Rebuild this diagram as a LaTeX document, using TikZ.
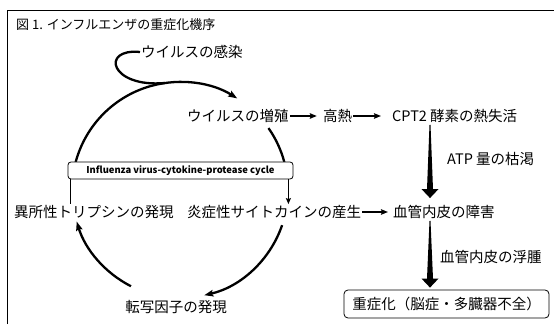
\documentclass[tikz,border=0pt]{standalone}
\usepackage{fontspec}
\setmainfont{Noto Sans CJK JP}
\usepackage{tikz}
\usetikzlibrary{arrows.meta,calc}
\newcommand{\taperarrow}[2]{%
 \fill ($(#1)+(-0.5,0)$) -- ($(#2)+(-3,9)$) -- ($(#2)+(-8.5,9)$) -- (#2)
  -- ($(#2)+(8.5,9)$) -- ($(#2)+(3,9)$) -- ($(#1)+(0.5,0)$) -- cycle;}

\begin{document}
\begin{tikzpicture}[x=1pt,y=1pt,
 lbl/.style={inner sep=1pt,font=\fontsize{14.5}{16}\selectfont},
 arr/.style={-{Stealth[length=7pt,width=5.5pt,inset=1pt]},line width=1.5pt},
 cyc/.style={line width=2.3pt},
 carr/.style={cyc,-{Stealth[length=9pt,width=6.5pt,inset=1.5pt]}},
 cbox/.style={draw,rounded corners=3pt,line width=0.8pt,fill=white,minimum width=225pt,minimum height=17pt,inner sep=0pt,font=\bfseries\fontsize{9.4}{10}\selectfont},
 rbox/.style={draw,rounded corners=4pt,line width=0.8pt,minimum width=205pt,minimum height=28pt,inner sep=0pt}
]
\useasboundingbox (0,0) rectangle (554,324);
\draw[line width=0.8pt] (7,0) -- (7,313.5) -- (554,313.5);
\node[lbl,anchor=west,font=\fontsize{13}{14}\selectfont] (title) at (15,299) {図 1. インフルエンザの重症化機序};

% cycle
\coordinate (c) at (180,134);
\node[lbl,anchor=west] (inf) at (140,272) {ウイルスの感染};
\node[lbl,anchor=west] (prolif) at (186,208) {ウイルスの増殖};
\node[lbl,anchor=west] (cyto) at (186,112) {炎症性サイトカインの産生};
\node[lbl,anchor=west] (tryp) at (13,112) {異所性トリプシンの発現};
\node[lbl] (tf) at (176,17) {転写因子の発現};

% right side
\node[lbl] (fever) at (337.5,208) {高熱};
\node[lbl,anchor=west] (cpt) at (391,208) {CPT2 酵素の熱失活};
\node[lbl,anchor=west] (atp) at (446,165) {ATP 量の枯渇};
\node[lbl,anchor=west] (endo) at (392,112) {血管内皮の障害};
\node[lbl,anchor=west] (edema) at (439,67) {血管内皮の浮腫};
\node[rbox,font=\fontsize{14.5}{16}\selectfont] (severe) at (446.5,20) {重症化（脳症・多臓器不全）};

\draw[cyc] (inf.west) .. controls (100,276) and (110,236) .. (165,241);
\draw[carr] ([shift={(165:108)}]c) arc[start angle=165,end angle=58,radius=108];
\draw[cyc] ([shift={(35:108)}]c) arc[start angle=35,end angle=15,radius=108];
\draw[carr] ([shift={(-19:108)}]c) arc[start angle=-19,end angle=-77,radius=108];
\draw[carr] ([shift={(243:108)}]c) arc[start angle=243,end angle=197,radius=108];
\node[cbox] (cycle) at (180.5,153.5) {Influenza virus-cytokine-protease cycle};
\draw[line width=1.6pt,-{Stealth[length=6pt,width=5pt,inset=1pt]}] ([xshift=-5]cycle.south east) -- ([xshift=-5]cycle.south east |- cyto.north);
\draw[line width=1.6pt] ([xshift=3]cycle.south west) -- ([xshift=3]cycle.south west |- tryp.north);

\draw[arr,shorten >=5pt] (prolif) -- (fever);
\draw[arr,shorten >=10pt] (fever) -- (cpt);
\draw[arr,shorten >=4pt] (cyto) -- (endo);
\coordinate (t1) at ([xshift=39,yshift=-1]cpt.south west);
\coordinate (h1) at ([yshift=6]endo.north -| t1);
\taperarrow{t1}{h1}
\coordinate (t2) at ([yshift=-1]endo.south -| t1);
\coordinate (h2) at ([yshift=2]severe.north -| t1);
\taperarrow{t2}{h2}
\end{tikzpicture}
\end{document}
